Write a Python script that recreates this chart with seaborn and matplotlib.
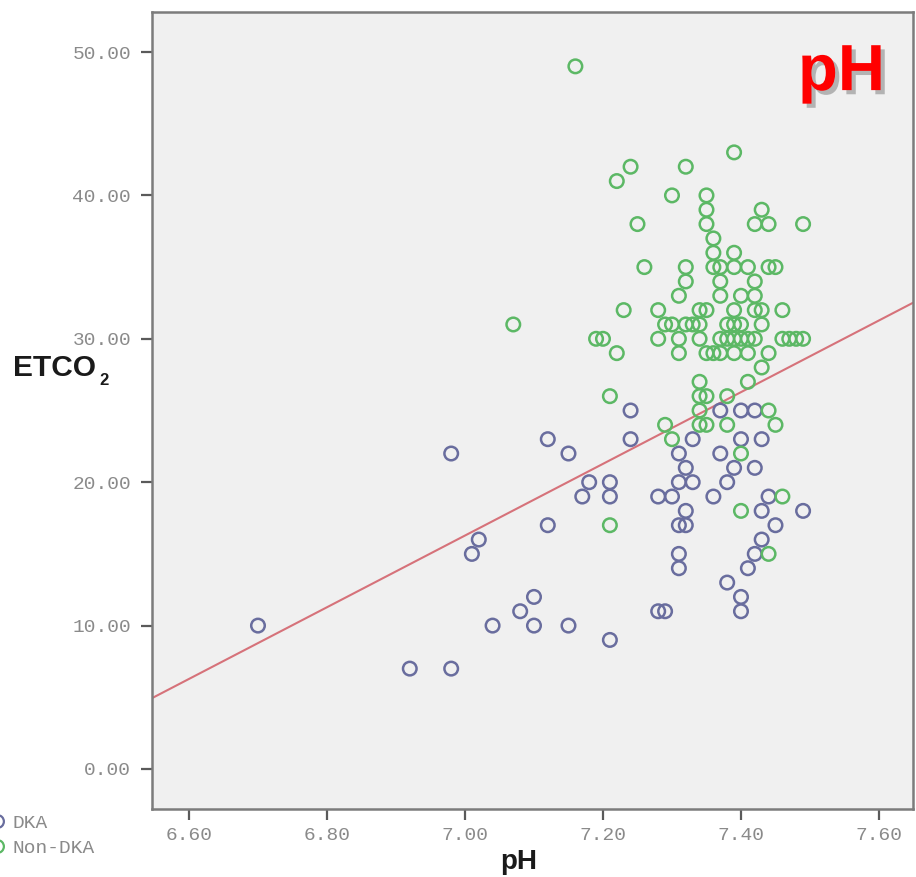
import matplotlib
matplotlib.use("Agg")
import matplotlib.pyplot as plt
import matplotlib.patheffects as pe
from matplotlib.lines import Line2D
import pandas as pd
import seaborn as sns

# ---- data -------------------------------------------------------------
dka_ph = [6.70, 6.92, 6.98, 6.98, 7.01, 7.02, 7.04, 7.08, 7.10, 7.10,
          7.12, 7.12, 7.15, 7.15, 7.17, 7.18, 7.21, 7.21, 7.21, 7.24,
          7.24, 7.28, 7.28, 7.29, 7.30, 7.31, 7.31, 7.31, 7.31, 7.31,
          7.32, 7.32, 7.32, 7.33, 7.33, 7.36, 7.37, 7.37, 7.38, 7.38,
          7.39, 7.40, 7.40, 7.40, 7.40, 7.41, 7.42, 7.42, 7.42, 7.43,
          7.43, 7.43, 7.44, 7.45, 7.49]
dka_etco2 = [10, 7, 7, 22, 15, 16, 10, 11, 12, 10,
             23, 17, 22, 10, 19, 20, 20, 19, 9, 25,
             23, 19, 11, 11, 19, 22, 20, 17, 15, 14,
             21, 18, 17, 23, 20, 19, 25, 22, 20, 13,
             21, 25, 23, 12, 11, 14, 25, 21, 15, 23,
             18, 16, 19, 17, 18]

non_dka_ph = [7.16, 7.22, 7.24, 7.32, 7.39, 7.30, 7.35, 7.35, 7.35, 7.25,
              7.43, 7.42, 7.44, 7.49, 7.36, 7.36, 7.39, 7.26, 7.32, 7.36,
              7.37, 7.39, 7.41, 7.44, 7.45, 7.32, 7.37, 7.42, 7.31, 7.37,
              7.40, 7.42, 7.23, 7.28, 7.34, 7.35, 7.39, 7.42, 7.43, 7.46,
              7.07, 7.29, 7.30, 7.32, 7.33, 7.34, 7.38, 7.39, 7.40, 7.43,
              7.19, 7.20, 7.28, 7.31, 7.34, 7.37, 7.38, 7.39, 7.40, 7.41,
              7.42, 7.46, 7.47, 7.48, 7.49, 7.22, 7.31, 7.35, 7.36, 7.37,
              7.39, 7.41, 7.44, 7.43, 7.34, 7.41, 7.21, 7.34, 7.35, 7.38,
              7.34, 7.44, 7.29, 7.34, 7.35, 7.38, 7.45, 7.30, 7.40, 7.46,
              7.40, 7.21, 7.44]
non_dka_etco2 = [49, 41, 42, 42, 43, 40, 40, 39, 38, 38,
                 39, 38, 38, 38, 37, 36, 36, 35, 35, 35,
                 35, 35, 35, 35, 35, 34, 34, 34, 33, 33,
                 33, 33, 32, 32, 32, 32, 32, 32, 32, 32,
                 31, 31, 31, 31, 31, 31, 31, 31, 31, 31,
                 30, 30, 30, 30, 30, 30, 30, 30, 30, 30,
                 30, 30, 30, 30, 30, 29, 29, 29, 29, 29,
                 29, 29, 29, 28, 27, 27, 26, 26, 26, 26,
                 25, 25, 24, 24, 24, 24, 24, 23, 22, 19,
                 18, 17, 15]

groups = ["DKA", "Non-DKA"]

# linear fit over all patients: ETCO2 = intercept + slope * pH
fit_intercept = -158.72
fit_slope = 25.0

x_ticks = [6.60, 6.80, 7.00, 7.20, 7.40, 7.60]
y_ticks = [0, 10, 20, 30, 40, 50]

df = pd.DataFrame({
    "pH": dka_ph + non_dka_ph,
    "ETCO2": dka_etco2 + non_dka_etco2,
    "group": [groups[0]] * len(dka_ph) + [groups[1]] * len(non_dka_ph),
})

# ---- styling ----------------------------------------------------------
sns.set_theme(style="white")
plt.rcParams["font.family"] = ["Liberation Sans", "DejaVu Sans"]

palette = {"DKA": "#696d9e", "Non-DKA": "#5cb865"}
tick_grey = "#8a8a8a"
mono = "Liberation Mono"

fig = plt.figure(figsize=(9.16, 8.77), dpi=100)
ax = fig.add_axes([152 / 916, 68 / 877, 761 / 916, 797 / 877])
ax.set_facecolor("#f0f0f0")

sns.scatterplot(data=df, x="pH", y="ETCO2", hue="group", palette=palette,
                s=95, linewidth=1.8, legend=False, ax=ax, zorder=3)
# hollow circles: move the hue colour from the face to the edge
coll = ax.collections[0]
face = coll.get_facecolors()
coll.set_edgecolors(face)
coll.set_facecolors("none")

# regression line across the whole plotting area
ax.axline((7.0, fit_intercept + fit_slope * 7.0), slope=fit_slope,
          color="#d6727a", lw=1.5, zorder=2)

ax.set_xlim(6.5464, 7.6493)
ax.set_ylim(-2.79, 52.79)
ax.set_xticks(x_ticks)
ax.set_xticklabels([f"{v:.2f}" for v in x_ticks])
ax.set_yticks(y_ticks)
ax.set_yticklabels([f"{v:.2f}" for v in y_ticks])
ax.tick_params(axis="both", which="major", bottom=True, left=True,
               direction="out", length=8, width=1.6, color="#5a5a5a",
               labelcolor=tick_grey, labelsize=14)
ax.tick_params(axis="y", pad=7)
ax.tick_params(axis="x", pad=5)
for lbl in ax.get_xticklabels() + ax.get_yticklabels():
    lbl.set_family(mono)

for side in ["left", "right", "top", "bottom"]:
    ax.spines[side].set_visible(True)
    ax.spines[side].set_color("#7c7c7c")
    ax.spines[side].set_linewidth(1.8)

# axis titles: ETCO with a lowered subscript 2
ax.set_ylabel("ETCO", rotation=0, fontsize=21.5, fontweight="bold",
              color="#1a1a1a")
ax.yaxis.set_label_coords(-0.183, 0.553)
ax.yaxis.label.set_ha("left")
ax.yaxis.label.set_va("center")
ax.text(-0.0697, 0.538, "2", transform=ax.transAxes, ha="left",
        va="center", fontsize=12, fontweight="bold", color="#1a1a1a")

ax.set_xlabel("pH", fontsize=20, fontweight="bold", color="#1a1a1a")
ax.xaxis.set_label_coords(0.482, -0.0753)
ax.xaxis.label.set_va("baseline")

# panel tag
ax.text(0.963, 0.902, "pH", transform=ax.transAxes, ha="right", va="baseline",
        fontsize=47, fontweight="bold", color="#ff0000", zorder=5,
        path_effects=[pe.withSimplePatchShadow(offset=(3, -3),
                                               shadow_rgbFace="#6a6a6a",
                                               alpha=0.45)])

# group legend in the lower-left corner
handles = [Line2D([], [], marker="o", ls="", mfc="none", mec=palette[g],
                  mew=1.6, ms=9.2) for g in groups]
fig.legend(handles, groups, loc="center left",
           bbox_to_anchor=(-0.0142, 0.0473), frameon=False,
           prop={"family": mono, "size": 14}, labelcolor=tick_grey,
           handlelength=1.0, handletextpad=0.3, labelspacing=0.35,
           borderpad=0, borderaxespad=0)

fig.savefig("out.png", dpi=100)
